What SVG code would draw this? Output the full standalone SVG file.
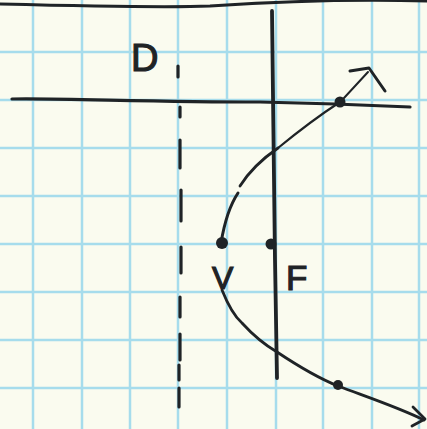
<svg xmlns="http://www.w3.org/2000/svg" width="427" height="429" viewBox="0 0 427 429">
<style>
.grid{stroke:#a6dcec;stroke-width:2.5;fill:none}
.ink{stroke:#1f2326;fill:none;stroke-linecap:round;stroke-linejoin:round}
.dot{fill:#1f2326}
.lbl{font-family:"Liberation Sans","DejaVu Sans",sans-serif;fill:#1f2326;stroke:#1f2326;stroke-width:1.2}
</style>
<rect width="427" height="429" fill="#fafbef"/>
<g id="grid" class="grid">
<path d="M33 0V429M82 0V429M130 0V429M178 0V429M227 0V429M276 0V429M323 0V429M372 0V429M419 0V429"/>
<path d="M0 52H427M0 100H427M0 148H427M0 196H427M0 244H427M0 292H427M0 340H427M0 388H427"/>
</g>
<g id="page-edge"><path class="ink" stroke-width="3" d="M0 4 C80 6 160 8 210 6 C270 2 350 -1 427 1"/></g>
<g id="axis"><path class="ink" stroke-width="3.2" d="M12 99 C60 98 150 102 260 102 C320 103 370 105 410 107"/></g>
<g id="focal-axis"><path class="ink" stroke-width="3.8" d="M272 11 C273 80 274 200 275 260 C276 320 277 360 277 378"/></g>
<g id="directrix" class="ink" stroke-width="3.2">
<path d="M178 66V77M180 107V117M180 140V168M181 190V221M181 247V273M180 297V317M180 334V360M179 365V380M179 388V407"/>
</g>
<g id="connectors">
<path class="ink" stroke-width="3" d="M221 243 C224 225 230 205 238 193"/>
<path class="ink" stroke-width="2.8" d="M240 186 C250 170 265 157 278 148"/>
<path class="ink" stroke-width="2.2" d="M278 148 C300 130 320 115 340 102"/>
<path class="ink" stroke-width="2" d="M344 98 L368 72"/>
<path class="ink" stroke-width="3" d="M350 71 L369 68 L385 91"/>
<path class="ink" stroke-width="2.8" d="M222 290 C228 305 234 316 242 323 C252 334 265 345 277 352 C298 366 318 378 338 386 C370 398 400 408 424 420"/>
<path class="ink" stroke-width="2.8" d="M413 407 L425 419 L412 426"/>
</g>
<g id="V"><circle class="dot" cx="222" cy="243" r="6"/><text class="lbl" x="212" y="289" font-size="32">V</text></g>
<g id="F"><circle class="dot" cx="271" cy="244" r="5.5"/><text class="lbl" x="286" y="290" font-size="35">F</text></g>
<g id="D"><text class="lbl" x="131" y="71" font-size="38">D</text></g>
<g id="P1"><circle class="dot" cx="340" cy="102" r="5.5"/></g>
<g id="P2"><circle class="dot" cx="338" cy="385" r="5"/></g>
</svg>
